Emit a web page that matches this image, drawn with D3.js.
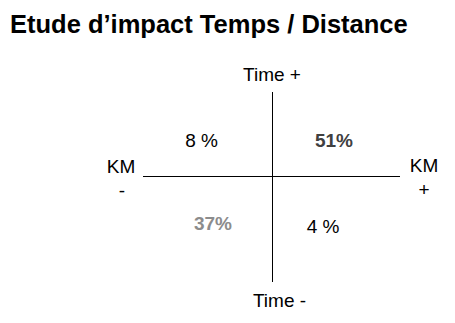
<!DOCTYPE html>
<html>
<head>
<meta charset="utf-8">
<script src="https://cdn.jsdelivr.net/npm/d3@7"></script>
<style>
  body { margin: 0; background: #fff; }
  svg { font-family: "Liberation Sans", Arial, sans-serif; }
</style>
</head>
<body>
<div id="chart"></div>
<script>
var title = "Etude d\u2019impact Temps / Distance";

// quadrants: km sign (x), time sign (y)
var quadrants = ["KM- / Time+", "KM+ / Time+", "KM- / Time-", "KM+ / Time-"];
var quadrantLabels = ["8 %", "51%", "37%", "4 %"];
var quadrantValues = [8, 51, 37, 4];

var axisLabels = ["Time +", "Time -", "KM", "KM"];

var width = 455, height = 323;

var svg = d3.select("#chart")
    .append("svg")
    .attr("width", width)
    .attr("height", height);

// scales centred on the crossing point
var x = d3.scaleLinear().domain([-1, 1]).range([143, 400]);
var y = d3.scaleLinear().domain([-1, 1]).range([282, 92]);

svg.append("text")
    .attr("x", 10)
    .attr("y", 33)
    .attr("font-size", 25.5)
    .attr("font-weight", "bold")
    .attr("fill", "#000")
    .text(title);

// axes
svg.append("line")
    .attr("x1", x(-1)).attr("x2", x(1))
    .attr("y1", 176.5).attr("y2", 176.5)
    .attr("stroke", "#000").attr("stroke-width", 1);
svg.append("line")
    .attr("x1", 272.5).attr("x2", 272.5)
    .attr("y1", y(1)).attr("y2", y(-1))
    .attr("stroke", "#000").attr("stroke-width", 1);

// axis labels
var fs = 19;
svg.append("text").attr("x", 272).attr("y", 81)
    .attr("text-anchor", "middle").attr("font-size", fs).text(axisLabels[0]);
svg.append("text").attr("x", 279.5).attr("y", 307)
    .attr("text-anchor", "middle").attr("font-size", fs).text(axisLabels[1]);
svg.append("text").attr("x", 121).attr("y", 173)
    .attr("text-anchor", "middle").attr("font-size", fs).text(axisLabels[2]);
svg.append("text").attr("x", 122).attr("y", 197)
    .attr("text-anchor", "middle").attr("font-size", fs).text("-");
svg.append("text").attr("x", 424).attr("y", 172)
    .attr("text-anchor", "middle").attr("font-size", fs).text(axisLabels[3]);
svg.append("text").attr("x", 424).attr("y", 196)
    .attr("text-anchor", "middle").attr("font-size", fs).text("+");

// quadrant percentages
var colors = ["#000", "#404040", "#8c8c8c", "#000"];
var weights = ["normal", "bold", "bold", "normal"];
var qx = [201.5, 334, 213, 323];
var qy = [147, 147, 230, 233];

svg.selectAll("text.q")
    .data(quadrants)
    .join("text")
    .attr("class", "q")
    .attr("x", function (d, i) { return qx[i]; })
    .attr("y", function (d, i) { return qy[i]; })
    .attr("text-anchor", "middle")
    .attr("font-size", fs)
    .attr("font-weight", function (d, i) { return weights[i]; })
    .attr("fill", function (d, i) { return colors[i]; })
    .text(function (d, i) { return quadrantLabels[i]; });
</script>
</body>
</html>
